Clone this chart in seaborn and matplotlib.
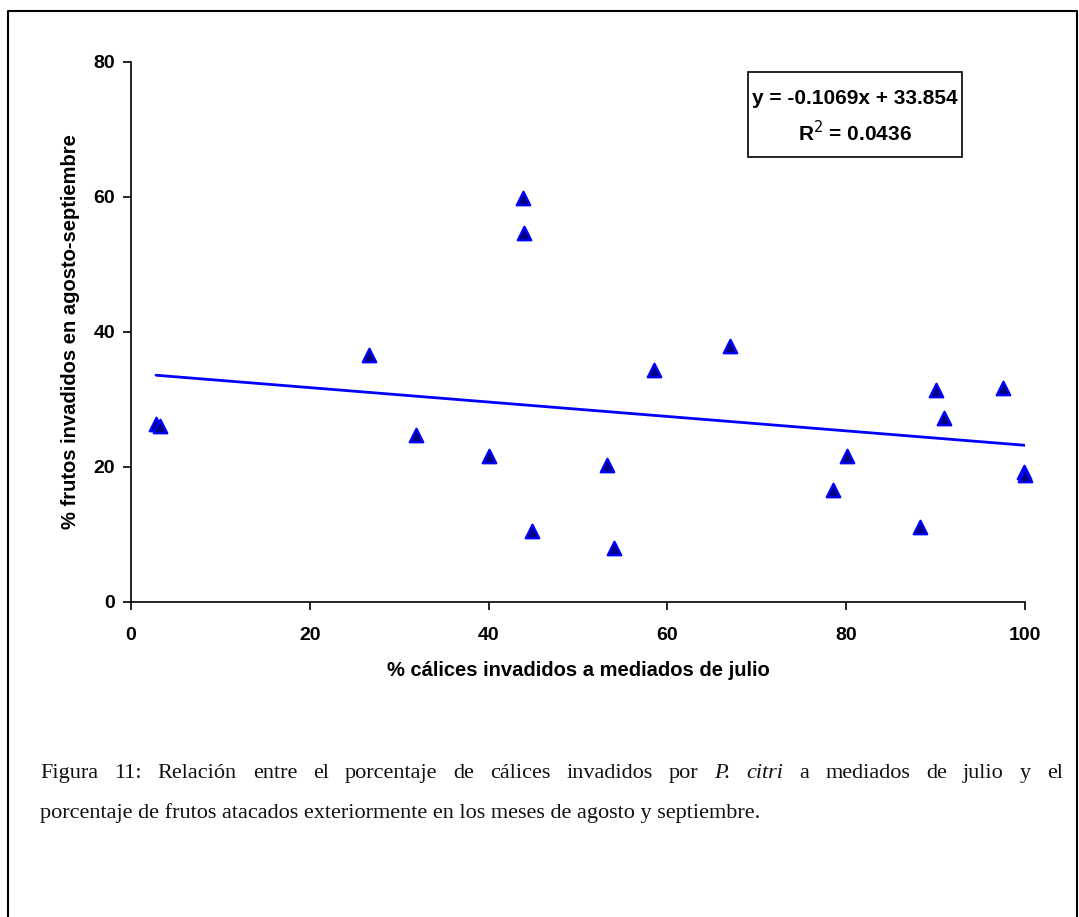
import matplotlib
matplotlib.use("Agg")
import matplotlib.pyplot as plt
import seaborn as sns
import numpy as np
import pandas as pd
from matplotlib.patches import Rectangle

# data
calices_julio = [2.8, 3.2, 26.6, 31.9, 40.1, 43.8, 44.0, 44.8, 53.2, 54.0, 58.5,
                 67.0, 78.5, 80.1, 88.3, 90.1, 90.9, 97.5, 99.9, 100.0]
frutos_ago_sep = [26.3, 26.0, 36.5, 24.7, 21.6, 59.9, 54.6, 10.5, 20.2, 8.0, 34.4,
                  37.9, 16.5, 21.6, 11.1, 31.4, 27.2, 31.7, 19.2, 18.8]
slope = -0.1069
intercept = 33.854
r2 = 0.0436
x_ticks = [0, 20, 40, 60, 80, 100]
y_ticks = [0, 20, 40, 60, 80]

sns.set_theme(style="white")
plt.rcParams['font.family'] = ['Liberation Sans', 'DejaVu Sans']
plt.rcParams['text.color'] = 'black'
plt.rcParams['axes.labelcolor'] = 'black'
plt.rcParams['xtick.color'] = 'black'
plt.rcParams['ytick.color'] = 'black'

W, H = 1079, 917
fig = plt.figure(figsize=(W/100, H/100), dpi=100)
ax = fig.add_axes([131/W, 1-601.5/H, 894/W, 539.5/H])

df = pd.DataFrame({"x": calices_julio, "y": frutos_ago_sep})
sns.scatterplot(data=df, x="x", y="y", ax=ax, marker="^", s=95,
                color="#000080", edgecolor="#0000FF", linewidth=1.6,
                clip_on=False, zorder=3)

xl = np.array([min(calices_julio), max(calices_julio)])
line_df = pd.DataFrame({"x": xl, "y": slope * xl + intercept})
sns.lineplot(data=line_df, x="x", y="y", ax=ax, color="#0000FF", linewidth=2, zorder=2)

ax.set_xlim(0, 100)
ax.set_ylim(0, 80)
ax.set_xticks(x_ticks)
ax.set_yticks(y_ticks)
ax.set_xticklabels([str(t) for t in x_ticks], fontsize=14, fontweight="bold")
ax.set_yticklabels([str(t) for t in y_ticks], fontsize=14, fontweight="bold")
ax.tick_params(axis="both", direction="out", length=6, width=1.2, color="black",
               bottom=True, left=True)
ax.tick_params(axis="x", pad=12)
ax.tick_params(axis="y", pad=5.5)
for s in ["top", "right"]:
    ax.spines[s].set_visible(False)
for s in ["left", "bottom"]:
    ax.spines[s].set_color("black")
    ax.spines[s].set_linewidth(1.2)

ax.set_xlabel("% cálices invadidos a mediados de julio", fontsize=14.5, fontweight="bold")
ax.set_ylabel("% frutos invadidos en agosto-septiembre", fontsize=14.5, fontweight="bold")
ax.xaxis.set_label_coords(0.5, -0.110)
ax.yaxis.set_label_coords(-0.057, 0.5)

# equation box
fig.add_artist(Rectangle((748/W, 1-157/H), 214/W, 85/H,
                         transform=fig.transFigure, fill=False,
                         edgecolor="black", linewidth=1.2))
narrow = ['Liberation Sans Narrow', 'Liberation Sans', 'DejaVu Sans']
fig.text(855/W, 1-98/H, f"y = {slope}x + {intercept}", ha="center", va="center",
         fontsize=15, fontweight="bold", family=narrow)
fig.text(855/W, 1-133/H, f"R$^{{2}}$ = {r2}", ha="center", va="center",
         fontsize=15, fontweight="bold", family=narrow)

# outer frame (left, top, right)
fig.add_artist(plt.Line2D([8/W, 8/W, 1077/W, 1077/W],
                          [-0.01, 1-11/H, 1-11/H, -0.01],
                          transform=fig.transFigure, color="black", linewidth=1.5))

# caption (line 1 justified)
serif = ['Liberation Serif', 'DejaVu Serif']
cap_size = 16
line1 = [("Figura", False), ("11:", False), ("Relación", False), ("entre", False),
         ("el", False), ("porcentaje", False), ("de", False), ("cálices", False),
         ("invadidos", False), ("por", False), ("P.", True), ("citri", True),
         ("a", False), ("mediados", False), ("de", False), ("julio", False),
         ("y", False), ("el", False)]
renderer = fig.canvas.get_renderer()
texts = []
widths = []
for w, it in line1:
    t = fig.text(0, 1-778/H, w, fontsize=cap_size, family=serif,
                 style="italic" if it else "normal", va="baseline", color="#111111")
    bb = t.get_window_extent(renderer=renderer)
    texts.append(t)
    widths.append(bb.width)
x_left, x_right = 40, 1063
gap = (x_right - x_left - sum(widths)) / (len(widths) - 1)
xpos = x_left
for t, wd in zip(texts, widths):
    t.set_x(xpos / W)
    xpos += wd + gap
fig.text(40/W, 1-818/H,
         "porcentaje de frutos atacados exteriormente en los meses de agosto y septiembre.",
         fontsize=cap_size, family=serif, color="#111111", va="baseline")

fig.savefig("out.png", dpi=100, facecolor="white")
